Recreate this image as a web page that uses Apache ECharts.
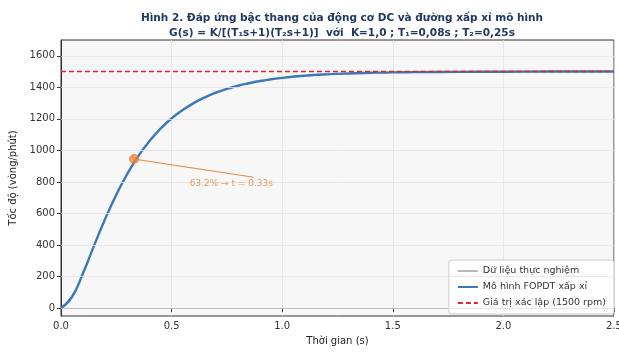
<!DOCTYPE html>
<html><head><meta charset="utf-8">
<script src="https://cdn.jsdelivr.net/npm/echarts@6/dist/echarts.min.js"></script>
<style>html,body{margin:0;padding:0;background:#fff}#c{width:619px;height:352px}</style>
</head><body><div id="c"></div>
<script>
// ---- data ----
const timeS = [0,0.05,0.1,0.15,0.2,0.25,0.3,0.35,0.4,0.45,0.5,0.55,0.6,0.65,0.7,0.75,0.8,0.85,0.9,0.95,1.0,1.1,1.2,1.3,1.4,1.5,1.6,1.8,2.0,2.2,2.5];
const modelRpm = [0,72,223,398,567,719,852,965,1059,1138,1203,1256,1300,1336,1366,1390,1410,1426,1440,1451,1460,1473,1482,1488,1492,1495,1496,1498,1499,1500,1500];
const measuredRpm = [4,70,226,395,570,716,855,962,1062,1135,1206,1253,1302,1334,1368,1388,1412,1424,1441,1450,1462,1471,1483,1487,1493,1494,1497,1497,1500,1499,1500];
const setpointRpm = 1500;
const markT = 0.33, markRpm = 945;
const noteStart = [0.33, 945], noteEnd = [0.87, 830];
const noteText = '63.2% → t = 0.33s';
const yTicks = [0,200,400,600,800,1000,1200,1400,1600];
const titleLines = ['Hình 2. Đáp ứng bậc thang của động cơ DC và đường xấp xỉ mô hình',
  'G(s) = K/[(T₁s+1)(T₂s+1)]  với  K=1,0 ; T₁=0,08s ; T₂=0,25s'];
const names = ['Dữ liệu thực nghiệm','Mô hình FOPDT xấp xỉ','Giá trị xác lập (1500 rpm)'];

const F = 'DejaVu Sans';
const chart = echarts.init(document.getElementById('c'), null, {renderer:'canvas'});
const pair = (a,b)=>a.map((x,i)=>[x,b[i]]);
chart.setOption({
  animation:false,
  backgroundColor:'#fff',
  title:{text:titleLines.join('\n'), left:337, textAlign:'center', top:6,
    textStyle:{fontFamily:F,fontSize:10.5,fontWeight:'bold',color:'#1f3864',lineHeight:15}},
  grid:{left:61,right:5,top:40,bottom:36,outerBoundsMode:'none',containLabel:false,show:true,backgroundColor:'#f7f7f7',borderColor:'#333',borderWidth:1},
  legend:{orient:'vertical',right:5,bottom:38,itemWidth:20,itemHeight:10,itemGap:6,
    padding:[6,8,6,8],backgroundColor:'rgba(255,255,255,0.9)',borderColor:'#ccc',borderWidth:1,borderRadius:3,
    itemStyle:{opacity:0},
    textStyle:{fontFamily:F,fontSize:9.5,color:'#333'},data:names},
  xAxis:{type:'value',min:0,max:2.5,interval:0.5,
    name:'Thời gian (s)',nameLocation:'middle',nameGap:20,nameTextStyle:{fontFamily:F,fontSize:10,color:'#222'},
    axisLine:{lineStyle:{color:'#333'}},axisTick:{length:4,lineStyle:{color:'#333'}},
    axisLabel:{fontFamily:F,fontSize:10,color:'#333',margin:5,formatter:v=>v.toFixed(1)},
    splitLine:{show:true,lineStyle:{color:'#e3e3e3',width:0.8}}},
  yAxis:{type:'value',min:-50,max:1700,
    name:'Tốc độ (vòng/phút)',nameLocation:'middle',nameGap:40,nameTextStyle:{fontFamily:F,fontSize:10,color:'#222'},
    axisLine:{show:true,lineStyle:{color:'#333'}},
    axisTick:{show:true,length:4,lineStyle:{color:'#333'},customValues:yTicks},
    axisLabel:{fontFamily:F,fontSize:10,color:'#333',margin:6,customValues:yTicks,formatter:v=>String(v)},
    splitLine:{show:false}},
  series:[
    {name:'grid',type:'line',data:[],silent:true,
      markLine:{silent:true,symbol:'none',label:{show:false},lineStyle:{color:'#e3e3e3',width:0.8,type:'solid'},
        data:yTicks.map(v=>({yAxis:v}))}},
    {name:names[0],type:'line',data:pair(timeS,measuredRpm),symbol:'none',smooth:true,
      lineStyle:{color:'#b8b8b8',width:1},itemStyle:{color:'#b8b8b8'},z:2},
    {name:names[1],type:'line',data:pair(timeS,modelRpm),symbol:'none',smooth:true,
      lineStyle:{color:'#3a78b8',width:2.4},itemStyle:{color:'#3a78b8'},z:3},
    {name:names[2],type:'line',data:[[0,setpointRpm],[2.5,setpointRpm]],symbol:'none',
      lineStyle:{color:'#e0262a',width:1.4,type:[5,3]},itemStyle:{color:'#e0262a'},z:3},
    {name:'note',type:'line',data:[noteStart,noteEnd],symbol:'none',
      lineStyle:{color:'#e8833a',width:1},z:4},
    {name:'noteText',type:'scatter',data:[[noteEnd[0]-0.1,noteEnd[1]-40]],symbolSize:0,
      label:{show:true,formatter:noteText,position:'inside',fontFamily:F,fontSize:9,color:'#e8833a'},z:5},
    {name:'mark',type:'scatter',data:[[markT,markRpm]],symbolSize:10,
      itemStyle:{color:'#e8833a'},z:6}
  ]
});
</script></body></html>
